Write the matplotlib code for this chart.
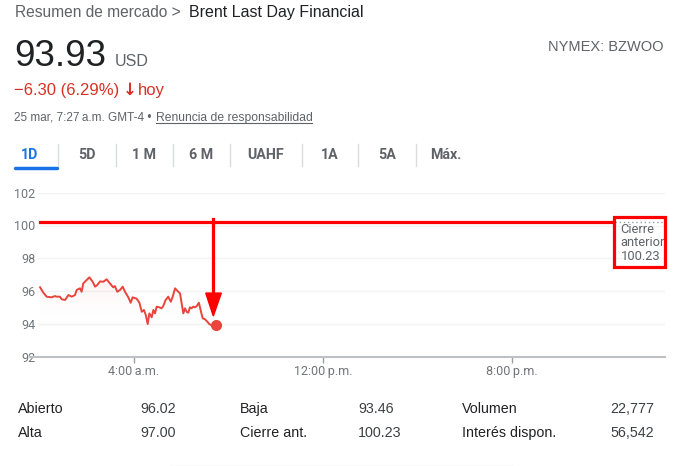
import numpy as np
import matplotlib
matplotlib.use('Agg')
import matplotlib.pyplot as plt
from matplotlib.patches import Rectangle, Polygon

plt.rcParams['font.family'] = ['Liberation Sans', 'DejaVu Sans']

W, H = 673, 466

# data (hours since midnight, price in USD)
hours = [0.02, 0.16, 0.30, 0.51, 0.65, 0.72, 0.86, 0.94, 1.08, 1.22, 1.36, 1.50,
         1.57, 1.71, 1.78, 1.85, 1.99, 2.11, 2.25, 2.35, 2.44, 2.56, 2.70, 2.84,
         2.98, 3.12, 3.19, 3.29, 3.41, 3.52, 3.62, 3.76, 3.86, 3.94, 4.11, 4.23,
         4.33, 4.42, 4.50, 4.58, 4.65, 4.75, 4.82, 4.89, 4.96, 5.07, 5.17, 5.24,
         5.34, 5.45, 5.56, 5.64, 5.74, 5.83, 5.95, 6.02, 6.09, 6.16, 6.23, 6.30,
         6.37, 6.44, 6.51, 6.58, 6.66, 6.75, 6.83, 6.91, 7.01, 7.11, 7.19, 7.29,
         7.39, 7.47]
prices = [96.23, 95.90, 95.66, 95.62, 95.70, 95.66, 95.66, 95.50, 95.46, 95.76, 95.66, 95.76,
          96.07, 96.17, 95.96, 96.47, 96.67, 96.84, 96.57, 96.27, 96.37, 96.59, 96.57, 96.72,
          96.47, 96.23, 96.31, 95.96, 96.07, 96.27, 95.96, 95.62, 95.29, 95.62, 95.54, 95.29,
          94.74, 94.85, 94.54, 93.99, 94.64, 94.40, 94.85, 94.64, 95.05, 95.01, 94.95, 95.09,
          95.46, 95.66, 95.35, 95.66, 96.17, 96.03, 95.86, 95.25, 94.64, 94.95, 94.74, 94.68,
          95.01, 94.95, 95.05, 95.01, 95.09, 95.29, 94.80, 94.34, 94.28, 94.13, 93.99, 93.91,
          93.95, 93.93]
prev_close = 100.23
y_ticks = [92, 94, 96, 98, 100, 102]
x_ticks = [4, 12, 20]
x_labels = ['4:00\u2009a.m.', '12:00\u2009p.m.', '8:00\u2009p.m.']
tabs = ['1D', '5D', '1 M', '6 M', 'UAHF', '1A', '5A', 'Máx.']
stat_labels = ['Abierto', 'Alta', 'Baja', 'Cierre ant.', 'Volumen', 'Interés dispon.']
stat_values = ['96.02', '97.00', '93.46', '100.23', '22,777', '56,542']

GRAY = '#5f6368'
DARK = '#202124'
RED = '#d93025'
LINE = '#e8453c'


def fx(x):
    return x / W


def fy(y):
    return 1 - y / H


def hr(px):
    # pixel column -> hour on the chart axis
    return 4 + (px - 134) / 23.6


fig = plt.figure(figsize=(W / 100, H / 100), dpi=100)
fig.patch.set_facecolor('white')

# header
fig.text(fx(15), fy(17), 'Resumen de mercado >', fontsize=11.2, color=GRAY, va='baseline')
fig.text(fx(189), fy(17), 'Brent Last Day Financial', fontsize=11.5, color=DARK, va='baseline')
fig.text(fx(14), fy(66), '93.93', fontsize=26.5, color=DARK, va='baseline')
fig.text(fx(115), fy(66), 'USD', fontsize=11.5, color=GRAY, va='baseline')
fig.text(fx(664), fy(51), 'NYMEX: BZWOO', fontsize=10.5, color=GRAY, va='baseline', ha='right')
fig.text(fx(14), fy(95), '\u22126.30 (6.29%)', fontsize=12, color=RED, va='baseline')
fig.text(fx(123), fy(95), '\u2193', fontsize=12, color=RED, va='baseline', fontweight='bold',
         family=['DejaVu Sans'])
fig.text(fx(138), fy(95), 'hoy', fontsize=12, color=RED, va='baseline')
fig.text(fx(14), fy(121), '25 mar, 7:27\u2009a.m. GMT-4 \u2022', fontsize=8.5, color=GRAY,
         va='baseline', family=['Liberation Sans', 'DejaVu Sans'])
fig.text(fx(156), fy(121), 'Renuncia de responsabilidad', fontsize=8.7, color=GRAY,
         va='baseline')
fig.add_artist(plt.Line2D([fx(156), fx(312)], [fy(122.8), fy(122.8)], color=GRAY, lw=0.8,
                          transform=fig.transFigure))

# range tabs
tab_x = [30, 87, 144, 201, 266, 330, 387, 446]
sep_x = [58, 116, 173, 230, 302, 358, 416]
for t, x in zip(tabs, tab_x):
    fig.text(fx(x), fy(155), t, fontsize=10.3, ha='center', va='center',
             color='#1a73e8' if t == '1D' else GRAY, family=['Roboto', 'DejaVu Sans'],
             fontweight='bold')
for x in sep_x:
    fig.add_artist(plt.Line2D([fx(x), fx(x)], [fy(144), fy(166)], color='#dadce0', lw=1,
                              transform=fig.transFigure))
fig.add_artist(plt.Line2D([fx(15), fx(57)], [fy(168), fy(168)], color='#1a73e8', lw=2.5,
                          solid_capstyle='round', transform=fig.transFigure))

# chart
ax = fig.add_axes([fx(30), fy(356.7), 635 / W, 164 / H])
ax.set_xlim(hr(30), hr(665))
ax.set_ylim(92, 102)
for s in ['top', 'left', 'right']:
    ax.spines[s].set_visible(False)
ax.spines['bottom'].set_color('#bdc1c6')
ax.spines['bottom'].set_linewidth(1.5)
ax.set_yticks(y_ticks)
ax.set_yticklabels([str(v) for v in y_ticks])
ax.tick_params(axis='y', length=0, pad=-4, labelsize=9, labelcolor='#70757a')
ax.set_xticks(x_ticks)
ax.set_xticklabels(x_labels)
ax.tick_params(axis='x', length=4, width=1, color='#9aa0a6', pad=2, labelsize=9,
               labelcolor='#70757a')
for lbl in ax.get_xticklabels() + ax.get_yticklabels():
    lbl.set_family(['Roboto', 'DejaVu Sans'])
ax.hlines(y_ticks[1:], hr(37), hr(665), color='#f1f3f4', lw=1, zorder=0)

# soft gradient under the price line
top = max(prices)
grad = np.linspace(0, 1, 100).reshape(-1, 1)
cmap = matplotlib.colors.LinearSegmentedColormap.from_list(
    'fade', [(1, 1, 1, 0), (0.95, 0.3, 0.3, 0.08)])
img = ax.imshow(grad, extent=[hours[0], hours[-1], 93.6, top], origin='lower',
                aspect='auto', cmap=cmap, zorder=1)
poly = Polygon(list(zip(hours, prices)) + [(hours[-1], 92), (hours[0], 92)],
               closed=True, transform=ax.transData, facecolor='none', edgecolor='none')
ax.add_patch(poly)
img.set_clip_path(poly)

ax.plot([hours[0], hr(665)], [prev_close, prev_close], color='#9aa0a6', lw=1,
        ls=(0, (1, 2)), zorder=2)
ax.plot(hours, prices, color=LINE, lw=1.4, zorder=3)
ax.plot(hours[-1], prices[-1], 'o', ms=7, color=LINE, zorder=4)

# red annotation: line, arrow and box around the previous close label
ax.plot([hours[0], hr(613)], [prev_close, prev_close], color='#ff0000', lw=2.3, zorder=5,
        clip_on=False)
ax_x = hours[-1] - 0.11
ax.plot([ax_x, ax_x], [prev_close + 0.15, prices[-1] + 1.95], color='#ff0000', lw=2.3,
        zorder=5, clip_on=False)
ax.add_patch(Polygon([(ax_x - 0.32, prices[-1] + 1.95), (ax_x + 0.34, prices[-1] + 1.95),
                      (ax_x, prices[-1] + 0.55)], closed=True, color='#ff0000', zorder=5))

fig.add_artist(Rectangle((fx(614), fy(266.5)), 51 / W, 49.5 / H, transform=fig.transFigure,
                         fill=False, ec='#ff0000', lw=2.3, zorder=6))
for i, t in enumerate(['Cierre', 'anterior', '%.2f' % prev_close]):
    fig.text(fx(620.5), fy(229 + 14 * i), t, fontsize=9.3, color=GRAY, va='center',
             family=['Roboto', 'DejaVu Sans'])

# stats table
col_lbl = [18, 240, 462]
col_val = [140, 358, 610]
row_y = [409, 433]
for i in range(6):
    c, r = i // 2, i % 2
    fig.text(fx(col_lbl[c]), fy(row_y[r]), stat_labels[i], fontsize=10.3, color=DARK,
             va='center')
    fig.text(fx(col_val[c]), fy(row_y[r]), stat_values[i], fontsize=10.3, color='#3c4043',
             va='center')
fig.add_artist(plt.Line2D([fx(170), fx(513)], [fy(465.5), fy(465.5)], color='#e8eaed', lw=1,
                          transform=fig.transFigure))

fig.savefig('out.png', dpi=100, facecolor='white')
